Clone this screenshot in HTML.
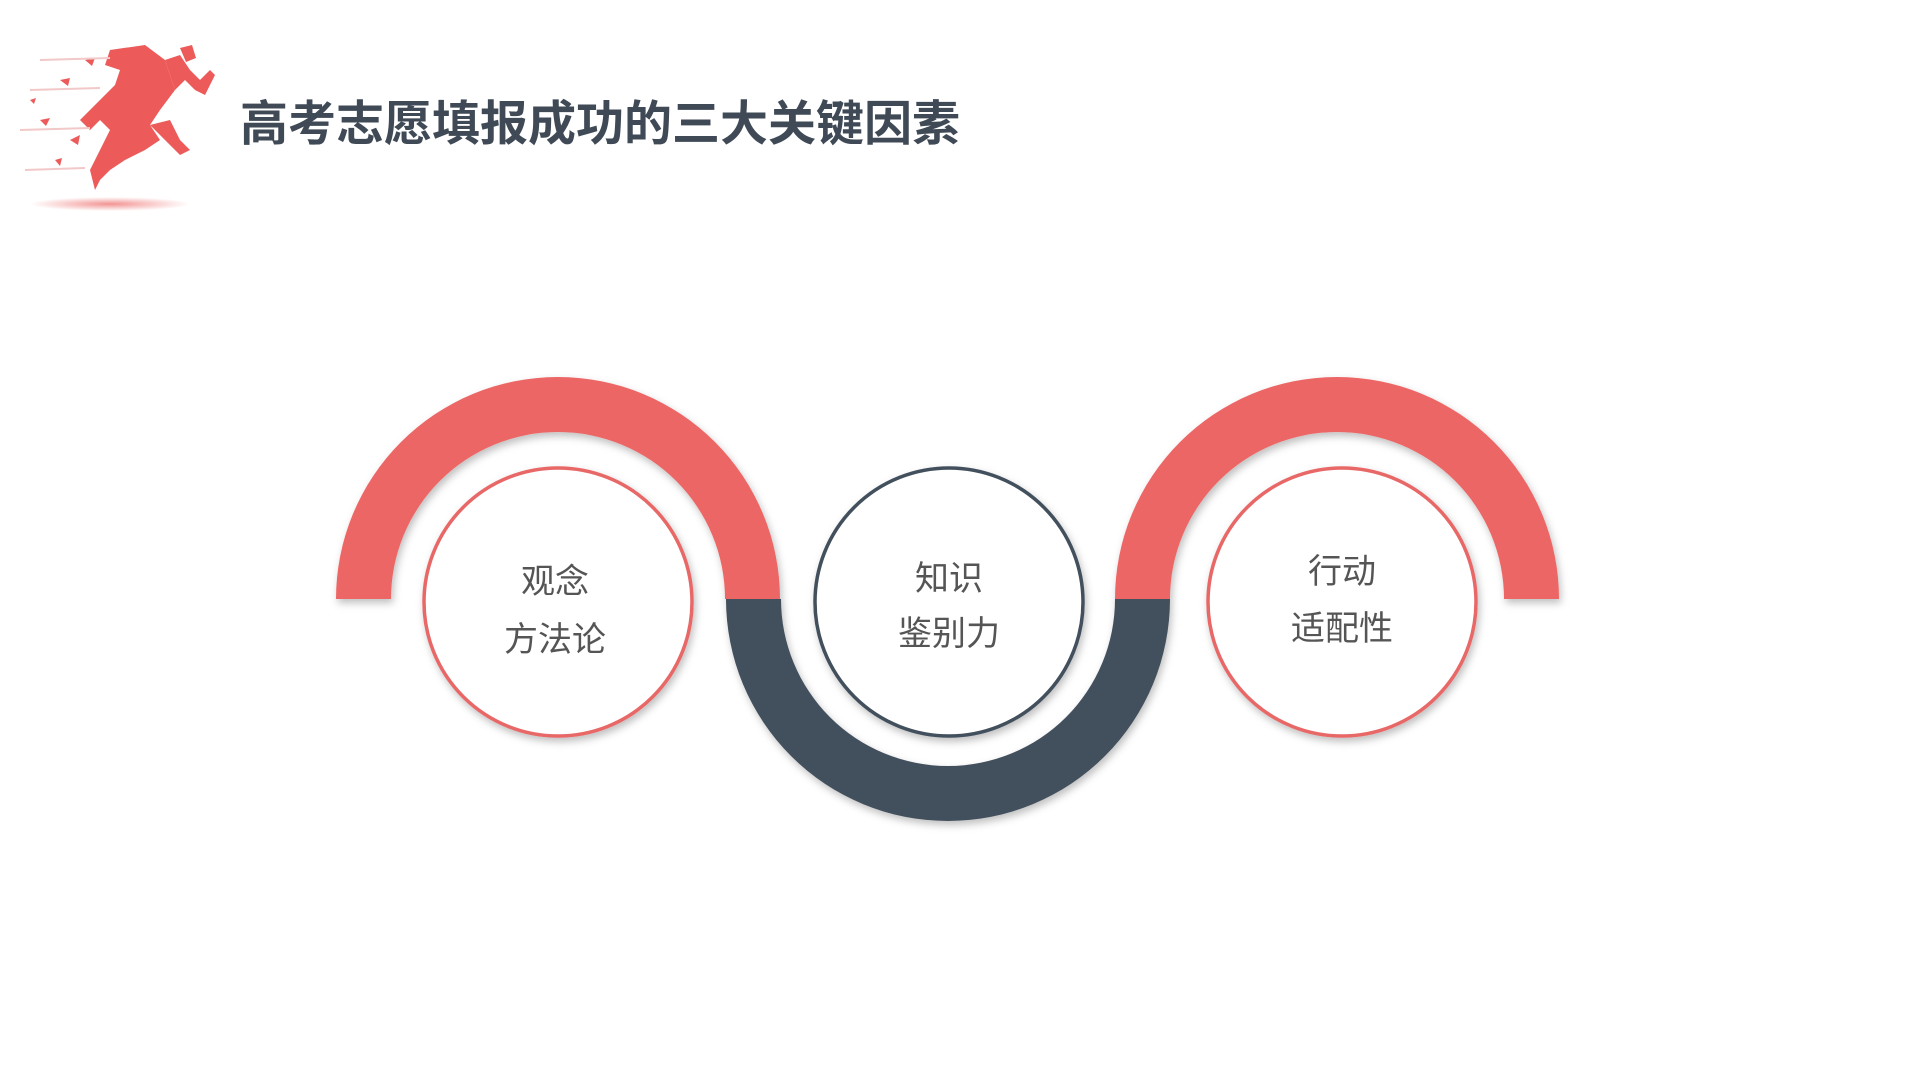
<!DOCTYPE html>
<html><head><meta charset="utf-8"><style>
html,body{margin:0;padding:0;background:#fff;width:1920px;height:1080px;overflow:hidden}
.t{position:absolute;font-family:"Liberation Sans","Noto Sans CJK SC",sans-serif}
</style></head><body>
<svg width="1920" height="1080" style="position:absolute;left:0;top:0">
<defs>
<filter id="sh" x="-20%" y="-20%" width="140%" height="140%"><feDropShadow dx="2" dy="4" stdDeviation="4" flood-color="#000" flood-opacity="0.25"/></filter>
<radialGradient id="g" cx="50%" cy="50%" r="50%"><stop offset="0" stop-color="#ec6665" stop-opacity="0.7"/><stop offset="1" stop-color="#ec6665" stop-opacity="0"/></radialGradient>
</defs>
<ellipse cx="110" cy="204" rx="80" ry="7" fill="url(#g)"/>
<g fill="#ec5a59">
<polygon points="110,50 145,45 165,60 170,75 175,90 160,110 150,125 160,140 145,150 125,160 110,170 100,180 95,190 90,170 100,150 110,130 100,120 90,130 80,120 100,100 115,85 120,70 105,65"/>
<polygon points="150,125 170,120 180,140 190,150 180,155 165,140"/>
<polygon points="165,60 180,55 190,70 200,80 210,70 215,75 205,95 195,90 185,80 175,90"/>
<polygon points="180,48 192,45 196,58 186,62"/>
<polygon points="60,80 70,78 68,86"/><polygon points="40,120 50,118 46,126"/><polygon points="70,140 80,135 78,145"/>
<polygon points="30,100 36,98 34,104"/><polygon points="55,160 62,158 60,166"/><polygon points="85,60 95,58 92,66"/>
</g>
<g stroke="#f2c8c8" stroke-width="2"><line x1="40" y1="60" x2="110" y2="58"/><line x1="30" y1="90" x2="100" y2="88"/><line x1="20" y1="130" x2="90" y2="128"/><line x1="25" y1="170" x2="85" y2="168"/></g>
<g filter="url(#sh)">
<path d="M336,599 A222,222 0 0 1 780,599 L725,599 A167,167 0 0 0 391,599 Z" fill="#ec6665"/>
<path d="M726,599 L781,599 A167,167 0 0 0 1115,599 L1170,599 A222,222 0 0 1 726,599 Z" fill="#434f5c"/>
<path d="M1115,599 A222,222 0 0 1 1559,599 L1504,599 A167,167 0 0 0 1170,599 Z" fill="#ec6665"/>
</g>
<g filter="url(#sh)" fill="#fff" stroke-width="3.5">
<circle cx="558" cy="602" r="134" stroke="#e86868"/>
<circle cx="949" cy="602" r="134" stroke="#434f5c"/>
<circle cx="1342" cy="602" r="134" stroke="#e86868"/>
</g>
</svg>
<div class="t" style="left:240px;top:84px;font-size:48px;font-weight:bold;color:#3f4a56;white-space:nowrap">高考志愿填报成功的三大关键因素</div>
<div class="t" style="left:455px;top:553px;width:200px;text-align:center;font-size:34px;color:#555;line-height:58px">观念<br>方法论</div>
<div class="t" style="left:849px;top:552px;width:200px;text-align:center;font-size:34px;color:#555;line-height:55px">知识<br>鉴别力</div>
<div class="t" style="left:1242px;top:544px;width:200px;text-align:center;font-size:34px;color:#555;line-height:57px">行动<br>适配性</div>
</body></html>
